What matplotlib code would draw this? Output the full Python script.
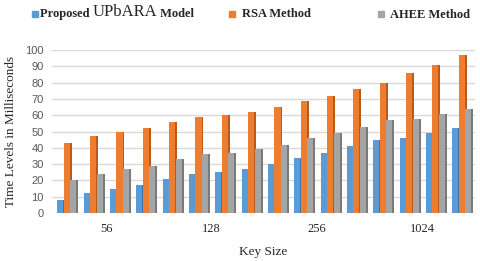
import matplotlib
matplotlib.use("Agg")
import matplotlib.pyplot as plt
import numpy as np

groups = list(range(16))
tick_labels = ["56", "128", "256", "1024"]
proposed = [8, 12, 15, 17, 21, 24, 25, 27, 30, 34, 37, 41, 45, 46, 49, 52]
rsa = [43, 47, 50, 52, 56, 59, 60, 62, 65, 69, 72, 76, 80, 86, 91, 97]
ahee = [20, 24, 27, 29, 33, 36, 37, 39, 42, 46, 49, 53, 57, 58, 61, 64]

colors = ["#5B9BD5", "#ED7D31", "#A5A5A5"]
dark = ["#3F75A8", "#B85A1C", "#7A7A7A"]

fig = plt.figure(figsize=(4.8, 2.61), dpi=100)
ax = fig.add_axes([0.108, 0.184, 0.882, 0.624])

x = np.array(groups, dtype=float)
w = 0.23
side = 0.07
for i, vals in enumerate([proposed, rsa, ahee]):
    off = (i - 1) * 0.25
    ax.bar(x + off, vals, width=w, color=colors[i], zorder=3 + i, linewidth=0)
    ax.bar(x + off + w / 2 + side / 2, vals, width=side, color=dark[i],
           zorder=3 + i, linewidth=0)

ax.set_ylim(0, 100)
ax.set_xlim(-0.57, 15.51)
ax.set_yticks(range(0, 101, 10))
ax.yaxis.grid(True, color="#D9D9D9", linewidth=1.0, zorder=0)
ax.set_axisbelow(True)
for s in ax.spines.values():
    s.set_visible(False)
ax.tick_params(axis="both", length=0)
ax.set_yticklabels([str(v) for v in range(0, 101, 10)], fontsize=8,
                   color="#595959", family="Liberation Sans")
ax.set_xticks([1.5, 5.5, 9.5, 13.5])
ax.set_xticklabels(tick_labels, fontsize=9, family="Liberation Serif",
                   color="#262626")
ax.tick_params(axis="x", pad=7)
ax.tick_params(axis="y", pad=6)

ax.set_ylabel("Time Levels in Milliseconds", family="Liberation Serif",
              fontsize=9.5, color="#262626", labelpad=6)
ax.set_xlabel("Key Size", family="Liberation Serif", fontsize=9.5,
              color="#262626", labelpad=8)

# legend
ly = 1 - 14 / 261
def marker(xp, c):
    fig.patches.append(plt.Rectangle((xp / 480, ly - 2.5 / 261), 5.5 / 480, 5.5 / 261,
                                     transform=fig.transFigure, color=c,
                                     figure=fig))
marker(32, colors[0])
marker(229, colors[1])
marker(378, colors[2])
t1 = fig.text(40 / 480, ly, "Proposed ", family="Liberation Serif", fontsize=9,
              fontweight="bold", va="center", color="#262626")
t2 = ax.annotate("UPbARA", xy=(1, 0), xycoords=t1, va="bottom", ha="left",
                 family="Liberation Serif", fontsize=12, color="#262626",
                 annotation_clip=False)
t3 = ax.annotate(" Model", xy=(1, 0), xycoords=t2, va="bottom", ha="left",
                 family="Liberation Serif", fontsize=9, fontweight="bold",
                 color="#262626", annotation_clip=False)
fig.text(242 / 480, ly, "RSA Method", family="Liberation Serif", fontsize=9,
         fontweight="bold", va="center", color="#262626")
fig.text(390 / 480, ly - 1 / 261, "AHEE Method", family="Liberation Serif",
         fontsize=9, fontweight="bold", va="center", color="#262626")

fig.savefig("out.png", dpi=100)
